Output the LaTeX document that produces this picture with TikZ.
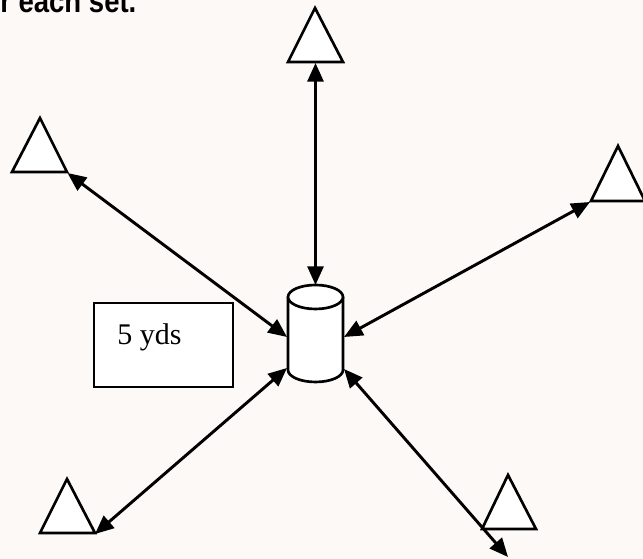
\documentclass[tikz,border=0pt]{standalone}
\usepackage{fontspec}
\setmainfont{Liberation Serif}
\newfontfamily\headfont{Liberation Sans}
\usetikzlibrary{arrows.meta}
\definecolor{paper}{RGB}{253,249,247}
\tikzset{
  cone/.style={draw=black, line width=2pt, fill=white, line join=miter},
  drum/.style={draw=black, line width=2pt, fill=white},
  link/.style={line width=2.2pt, {Triangle[length=14pt,width=12pt]}-{Triangle[length=14pt,width=12pt]}},
  labelbox/.style={draw=black, line width=1.8pt, fill=white}
}
\begin{document}
\begin{tikzpicture}[x=0.75pt,y=0.75pt]
  \useasboundingbox (0,0) rectangle (643,559);
  \clip (0,0) rectangle (643,559);
  \fill[paper] (0,0) rectangle (643,559);

  % heading line, running off the top edge
  \node[anchor=base west, inner sep=0pt] (head) at (0,546.5)
    {\scalebox{0.86}[1]{\headfont\bfseries\fontsize{24pt}{26pt}\selectfont r each set.}};

  % distance label
  \draw[labelbox] (94,172) rectangle (233,256);
  \node[anchor=base west, inner sep=0pt] (yds) at (117,214)
    {\fontsize{22.5pt}{26pt}\selectfont 5 yds};

  % cones
  \draw[cone] (288,497) -- (315,551) -- (343,497) -- cycle;
  \draw[cone] (12,387) -- (40,441) -- (67,387) -- cycle;
  \draw[cone] (591,358) -- (618,413) -- (645,358) -- cycle;
  \draw[cone] (40,26) -- (67,80) -- (95,26) -- cycle;
  \draw[cone] (482,30) -- (508,84) -- (536,30) -- cycle;

  % centre marker (cylinder)
  \draw[drum] (288,262) -- (288,189) arc[start angle=180, end angle=360, x radius=27.5, y radius=12]
    -- (343,262);
  \draw[drum] (315.5,262) ellipse [x radius=27.5, y radius=12];

  % connector end points
  \coordinate (cTop) at (315.5,496);
  \coordinate (cUL) at (67.5,386);
  \coordinate (cR) at (590,357);
  \coordinate (cBL) at (95,25);
  \coordinate (cBR) at (508,2);
  \coordinate (mTop) at (315.5,274);
  \coordinate (mL) at (287,222);
  \coordinate (mR) at (344,222);
  \coordinate (mLL) at (287,191);
  \coordinate (mLR) at (344,190);

  % passes
  \draw[link] (cTop) -- (mTop);
  \draw[link] (cUL) -- (mL);
  \draw[link] (cR) -- (mR);
  \draw[link] (cBL) -- (mLL);
  \draw[link] (mLR) -- (cBR);
\end{tikzpicture}
\end{document}
